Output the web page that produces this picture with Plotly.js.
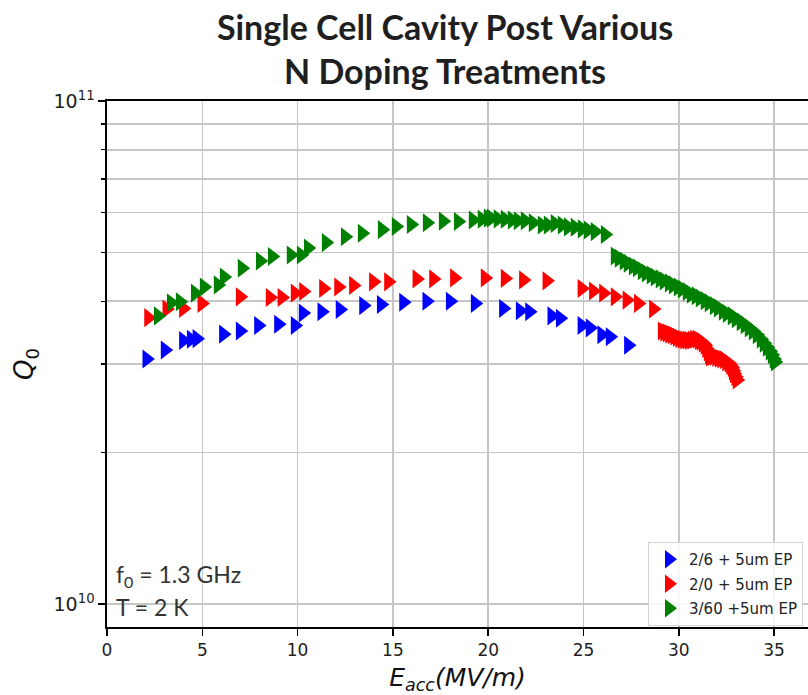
<!DOCTYPE html>
<html>
<head>
<meta charset="utf-8">
<script src="https://cdn.plot.ly/plotly-3.0.1.min.js"></script>
<style>
  html, body { margin: 0; padding: 0; background: #ffffff; }
  #chart { width: 808px; height: 695px; }
</style>
</head>
<body>
<div id="chart"></div>
<script>
// Accelerating gradient (MV/m) and intrinsic quality factor per treatment
const eacc26 = [2.08, 3.04, 4.00, 4.41, 4.71, 6.10, 6.98, 7.94, 8.99, 9.86, 10.28, 11.26, 12.22, 13.45, 14.38,
  15.55, 16.77, 18.00, 19.31, 20.79, 21.67, 22.16, 23.33, 23.77, 24.91, 25.34, 25.95, 26.39, 27.35];
const q26 = [3.07e10, 3.20e10, 3.34e10, 3.36e10, 3.37e10, 3.44e10, 3.49e10, 3.58e10, 3.60e10, 3.58e10, 3.79e10,
  3.81e10, 3.85e10, 3.92e10, 3.94e10, 3.98e10, 4.00e10, 4.00e10, 3.96e10, 3.87e10, 3.83e10, 3.81e10, 3.74e10,
  3.70e10, 3.58e10, 3.54e10, 3.43e10, 3.40e10, 3.27e10];

const eacc20 = [2.17, 3.13, 4.00, 4.97, 6.98, 8.55, 9.17, 9.86, 10.30, 11.35, 12.14, 12.92, 13.97, 14.76, 16.25,
  17.12, 18.22, 19.83, 20.88, 21.84, 23.07, 24.91, 25.51, 26.04, 26.65, 27.27, 27.87, 28.66,
  29.12, 29.25, 29.38, 29.51, 29.64, 29.78, 29.91, 30.04, 30.17, 30.30, 30.43, 30.56, 30.69, 30.82, 30.95,
  31.06, 31.16, 31.27, 31.37, 31.45, 31.53, 31.60, 31.64, 31.75, 31.85, 31.98, 32.11, 32.24, 32.37, 32.50,
  32.63, 32.71, 32.79, 32.85, 32.90, 32.98, 33.05];
const q20 = [3.71e10, 3.86e10, 3.87e10, 3.96e10, 4.08e10, 4.07e10, 4.07e10, 4.15e10, 4.18e10, 4.24e10, 4.27e10,
  4.30e10, 4.37e10, 4.37e10, 4.43e10, 4.43e10, 4.45e10, 4.45e10, 4.44e10, 4.41e10, 4.39e10, 4.24e10, 4.19e10,
  4.15e10, 4.08e10, 4.02e10, 3.96e10, 3.86e10,
  3.49e10, 3.47e10, 3.46e10, 3.44e10, 3.43e10, 3.41e10, 3.39e10, 3.37e10, 3.36e10, 3.35e10, 3.35e10, 3.34e10,
  3.35e10, 3.36e10, 3.36e10, 3.34e10, 3.33e10, 3.30e10, 3.27e10, 3.22e10, 3.17e10, 3.13e10, 3.10e10, 3.11e10,
  3.11e10, 3.09e10, 3.08e10, 3.07e10, 3.06e10, 3.03e10, 3.01e10, 2.98e10, 2.95e10, 2.91e10, 2.87e10, 2.83e10,
  2.79e10];

const eacc360 = [2.68, 3.36, 3.83, 4.62, 5.09, 5.82, 6.14, 7.08, 8.03, 8.66, 9.65, 10.18, 10.55, 11.49, 12.49,
  13.38, 14.43, 15.16, 15.95, 16.79, 17.63, 18.42, 19.20, 19.67, 19.99, 20.15, 20.51, 20.88, 21.25, 21.56,
  21.93, 22.35, 22.82, 23.14, 23.50, 23.87, 24.19, 24.55, 24.92, 25.24, 25.60, 26.13,
  26.65, 26.86, 27.12, 27.33, 27.60, 27.81, 28.07, 28.28, 28.54, 28.75, 29.01, 29.22, 29.49, 29.70, 29.96,
  30.17, 30.43, 30.64, 30.90, 31.11, 31.37, 31.58, 31.85, 32.06, 32.32, 32.53, 32.79, 33.00, 33.26, 33.47,
  33.68, 33.89, 34.10, 34.31, 34.47, 34.63, 34.78, 34.89, 34.99, 35.05];
const q360 = [3.74e10, 3.97e10, 3.99e10, 4.15e10, 4.27e10, 4.31e10, 4.47e10, 4.65e10, 4.81e10, 4.91e10, 4.94e10,
  4.94e10, 5.10e10, 5.23e10, 5.37e10, 5.46e10, 5.55e10, 5.63e10, 5.68e10, 5.73e10, 5.77e10, 5.76e10, 5.80e10,
  5.82e10, 5.85e10, 5.85e10, 5.83e10, 5.82e10, 5.80e10, 5.78e10, 5.78e10, 5.73e10, 5.67e10, 5.67e10, 5.71e10,
  5.67e10, 5.62e10, 5.61e10, 5.57e10, 5.54e10, 5.50e10, 5.43e10,
  4.92e10, 4.87e10, 4.81e10, 4.76e10, 4.70e10, 4.66e10, 4.60e10, 4.55e10, 4.51e10, 4.47e10, 4.43e10, 4.39e10,
  4.35e10, 4.31e10, 4.27e10, 4.23e10, 4.18e10, 4.13e10, 4.10e10, 4.06e10, 4.01e10, 3.97e10, 3.92e10, 3.88e10,
  3.82e10, 3.78e10, 3.74e10, 3.69e10, 3.64e10, 3.59e10, 3.54e10, 3.49e10, 3.43e10, 3.36e10, 3.30e10, 3.24e10,
  3.18e10, 3.13e10, 3.07e10, 3.03e10];

const seriesNames = ['2/6 + 5um EP', '2/0 + 5um EP', '3/60 +5um EP'];
const seriesColors = ['#0000ff', '#ff0000', '#008000'];

const xTickVals = [0, 5, 10, 15, 20, 25, 30, 35];
const yMajorVals = [1e10, 1e11];
const yMajorText = ['10<sup>10</sup>', '10<sup>11</sup>'];
const yMinorVals = [2e10, 3e10, 4e10, 5e10, 6e10, 7e10, 8e10, 9e10];

const tickFont = { family: 'DejaVu Sans', size: 17, color: '#222222' };
const gridColor = '#c6c6c6';

function series(i, xs, ys) {
  return {
    type: 'scatter', mode: 'markers', x: xs, y: ys, name: seriesNames[i],
    legendgroup: 'g' + i,
    marker: { symbol: 'triangle-right', size: 16.5, color: seriesColors[i], line: { width: 0 } },
    cliponaxis: true
  };
}

const data = [
  series(0, eacc26, q26),
  series(1, eacc20, q20),
  series(2, eacc360, q360)
];

const layout = {
  width: 808, height: 695,
  margin: { l: 107, r: 0, t: 101, b: 68 },
  paper_bgcolor: '#ffffff', plot_bgcolor: '#ffffff',
  showlegend: true,
  title: {
    text: 'Single Cell Cavity Post Various<br>N Doping Treatments',
    font: { family: 'Lato', size: 34, color: '#1f1f1f', weight: 'bold' },
    xref: 'container', yref: 'container', x: 445 / 808, xanchor: 'center',
    y: 1 - 40 / 695, yanchor: 'middle'
  },
  xaxis: {
    range: [0, 36.78], tickvals: xTickVals, ticks: 'outside', ticklen: 7, tickwidth: 1.5,
    tickcolor: '#000', showline: true, linecolor: '#000', linewidth: 1.6, mirror: true,
    showgrid: true, gridcolor: gridColor, gridwidth: 1.6, zeroline: false,
    tickfont: tickFont,
    title: {
      text: '<i>E</i><sub><i>acc</i></sub><i>(MV/m)</i>',
      font: { family: 'DejaVu Sans', size: 25, color: '#111' }, standoff: 10
    }
  },
  yaxis: {
    type: 'log', range: [Math.log10(9e9) + 0.0002, 11], tickvals: yMajorVals, ticktext: yMajorText,
    ticks: 'outside', ticklen: 7, tickwidth: 1.5, tickcolor: '#000',
    showline: true, linecolor: '#000', linewidth: 1.6, mirror: false,
    showgrid: true, gridcolor: gridColor, gridwidth: 1.6, zeroline: false,
    tickfont: { family: 'DejaVu Sans', size: 19, color: '#222222' },
    minor: { tickvals: yMinorVals, ticks: 'outside', ticklen: 4, tickwidth: 1.2, tickcolor: '#000',
      showgrid: true, gridcolor: gridColor, gridwidth: 1.6 },
    title: {
      text: '<i>Q</i><sub>0</sub>',
      font: { family: 'DejaVu Sans', size: 26, color: '#111' }, standoff: 12
    }
  },
  legend: {
    x: (803 - 107) / 701, xanchor: 'right', y: (627 - 626) / 526, yanchor: 'bottom',
    bgcolor: 'rgba(255,255,255,0.85)', bordercolor: '#d4d4d4', borderwidth: 1,
    font: { family: 'DejaVu Sans', size: 15, color: '#222' },
    traceorder: 'grouped', tracegroupgap: 2
  },
  annotations: [
    { xref: 'paper', yref: 'paper', x: (114 - 107) / 701, y: (627 - 575) / 526, xanchor: 'left', yanchor: 'middle',
      text: 'f<sub>0</sub> = 1.3 GHz', showarrow: false, font: { family: 'Lato', size: 23, color: '#333' } },
    { xref: 'paper', yref: 'paper', x: (114 - 107) / 701, y: (627 - 607) / 526, xanchor: 'left', yanchor: 'middle',
      text: 'T = 2 K', showarrow: false, font: { family: 'Lato', size: 23, color: '#333' } }
  ]
};

Plotly.newPlot('chart', data, layout, { displayModeBar: false, staticPlot: true });
</script>
</body>
</html>
